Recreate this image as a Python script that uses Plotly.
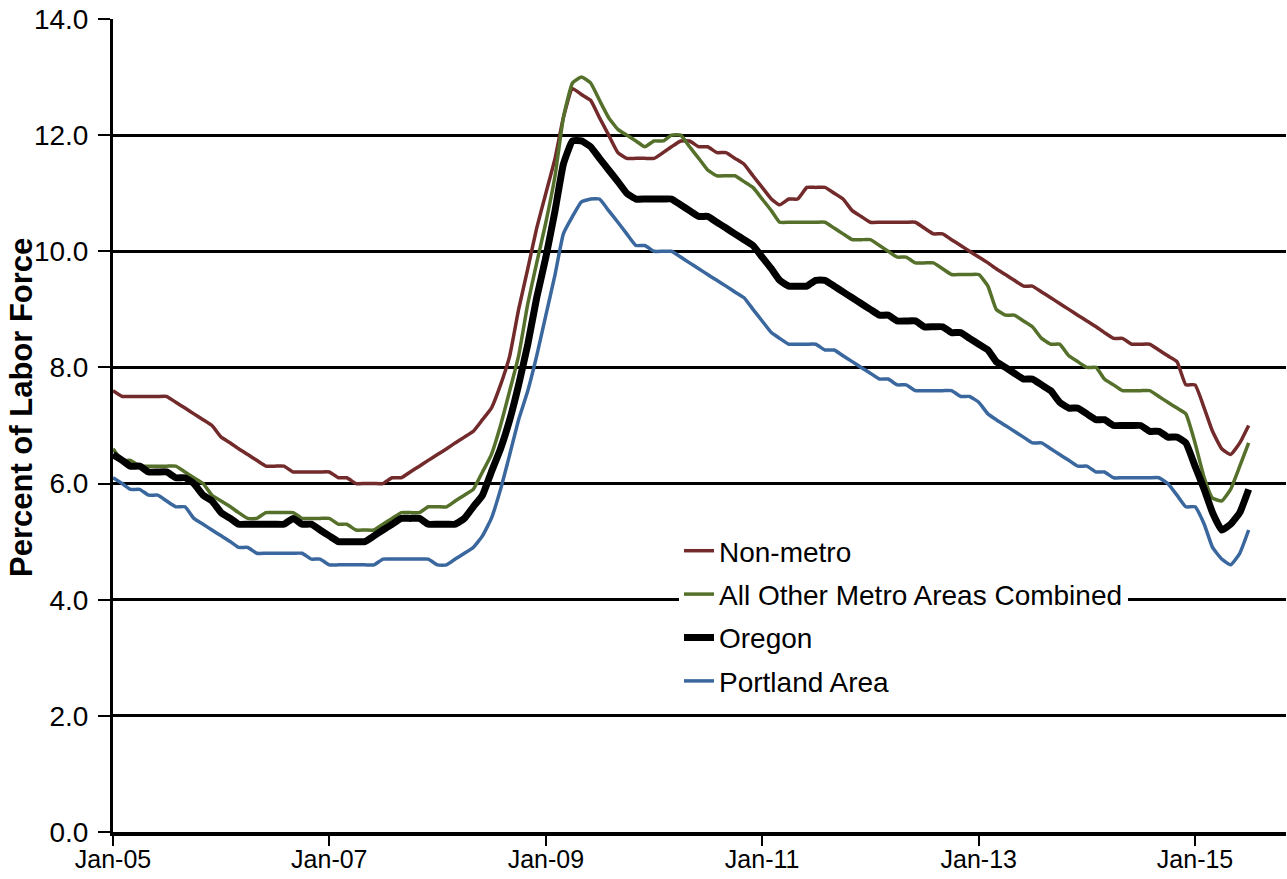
import pandas as pd
import plotly.graph_objects as go

# Monthly, Jan 2005 .. Jul 2015
months = pd.date_range("2005-01-01", periods=127, freq="MS")

non_metro = [
    7.6, 7.5, 7.5, 7.5, 7.5, 7.5, 7.5, 7.4, 7.3, 7.2,
    7.1, 7.0, 6.8, 6.7, 6.6, 6.5, 6.4, 6.3, 6.3, 6.3,
    6.2, 6.2, 6.2, 6.2, 6.2, 6.1, 6.1, 6.0, 6.0, 6.0,
    6.0, 6.1, 6.1, 6.2, 6.3, 6.4, 6.5, 6.6, 6.7, 6.8,
    6.9, 7.1, 7.3, 7.7, 8.2, 9.0, 9.7, 10.4, 11.0, 11.6,
    12.3, 12.8, 12.7, 12.6, 12.3, 12.0, 11.7, 11.6, 11.6, 11.6,
    11.6, 11.7, 11.8, 11.9, 11.9, 11.8, 11.8, 11.7, 11.7, 11.6,
    11.5, 11.3, 11.1, 10.9, 10.8, 10.9, 10.9, 11.1, 11.1, 11.1,
    11.0, 10.9, 10.7, 10.6, 10.5, 10.5, 10.5, 10.5, 10.5, 10.5,
    10.4, 10.3, 10.3, 10.2, 10.1, 10.0, 9.9, 9.8, 9.7, 9.6,
    9.5, 9.4, 9.4, 9.3, 9.2, 9.1, 9.0, 8.9, 8.8, 8.7,
    8.6, 8.5, 8.5, 8.4, 8.4, 8.4, 8.3, 8.2, 8.1, 7.7,
    7.7, 7.3, 6.9, 6.6, 6.5, 6.7, 7.0,
]

other_metro = [
    6.6, 6.4, 6.4, 6.3, 6.3, 6.3, 6.3, 6.3, 6.2, 6.1,
    6.0, 5.8, 5.7, 5.6, 5.5, 5.4, 5.4, 5.5, 5.5, 5.5,
    5.5, 5.4, 5.4, 5.4, 5.4, 5.3, 5.3, 5.2, 5.2, 5.2,
    5.3, 5.4, 5.5, 5.5, 5.5, 5.6, 5.6, 5.6, 5.7, 5.8,
    5.9, 6.2, 6.5, 7.0, 7.6, 8.2, 9.1, 9.8, 10.5, 11.3,
    12.3, 12.9, 13.0, 12.9, 12.6, 12.3, 12.1, 12.0, 11.9, 11.8,
    11.9, 11.9, 12.0, 12.0, 11.8, 11.6, 11.4, 11.3, 11.3, 11.3,
    11.2, 11.1, 10.9, 10.7, 10.5, 10.5, 10.5, 10.5, 10.5, 10.5,
    10.4, 10.3, 10.2, 10.2, 10.2, 10.1, 10.0, 9.9, 9.9, 9.8,
    9.8, 9.8, 9.7, 9.6, 9.6, 9.6, 9.6, 9.4, 9.0, 8.9,
    8.9, 8.8, 8.7, 8.5, 8.4, 8.4, 8.2, 8.1, 8.0, 8.0,
    7.8, 7.7, 7.6, 7.6, 7.6, 7.6, 7.5, 7.4, 7.3, 7.2,
    6.7, 6.1, 5.75, 5.7, 5.9, 6.3, 6.7,
]

oregon = [
    6.5, 6.4, 6.3, 6.3, 6.2, 6.2, 6.2, 6.1, 6.1, 6.0,
    5.8, 5.7, 5.5, 5.4, 5.3, 5.3, 5.3, 5.3, 5.3, 5.3,
    5.4, 5.3, 5.3, 5.2, 5.1, 5.0, 5.0, 5.0, 5.0, 5.1,
    5.2, 5.3, 5.4, 5.4, 5.4, 5.3, 5.3, 5.3, 5.3, 5.4,
    5.6, 5.8, 6.2, 6.6, 7.1, 7.7, 8.4, 9.2, 9.9, 10.7,
    11.5, 11.9, 11.9, 11.8, 11.6, 11.4, 11.2, 11.0, 10.9, 10.9,
    10.9, 10.9, 10.9, 10.8, 10.7, 10.6, 10.6, 10.5, 10.4, 10.3,
    10.2, 10.1, 9.9, 9.7, 9.5, 9.4, 9.4, 9.4, 9.5, 9.5,
    9.4, 9.3, 9.2, 9.1, 9.0, 8.9, 8.9, 8.8, 8.8, 8.8,
    8.7, 8.7, 8.7, 8.6, 8.6, 8.5, 8.4, 8.3, 8.1, 8.0,
    7.9, 7.8, 7.8, 7.7, 7.6, 7.4, 7.3, 7.3, 7.2, 7.1,
    7.1, 7.0, 7.0, 7.0, 7.0, 6.9, 6.9, 6.8, 6.8, 6.7,
    6.3, 5.9, 5.5, 5.2, 5.3, 5.5, 5.9,
]

portland = [
    6.1, 6.0, 5.9, 5.9, 5.8, 5.8, 5.7, 5.6, 5.6, 5.4,
    5.3, 5.2, 5.1, 5.0, 4.9, 4.9, 4.8, 4.8, 4.8, 4.8,
    4.8, 4.8, 4.7, 4.7, 4.6, 4.6, 4.6, 4.6, 4.6, 4.6,
    4.7, 4.7, 4.7, 4.7, 4.7, 4.7, 4.6, 4.6, 4.7, 4.8,
    4.9, 5.1, 5.4, 5.9, 6.5, 7.1, 7.6, 8.2, 8.9, 9.6,
    10.3, 10.6, 10.85, 10.9, 10.9, 10.7, 10.5, 10.3, 10.1, 10.1,
    10.0, 10.0, 10.0, 9.9, 9.8, 9.7, 9.6, 9.5, 9.4, 9.3,
    9.2, 9.0, 8.8, 8.6, 8.5, 8.4, 8.4, 8.4, 8.4, 8.3,
    8.3, 8.2, 8.1, 8.0, 7.9, 7.8, 7.8, 7.7, 7.7, 7.6,
    7.6, 7.6, 7.6, 7.6, 7.5, 7.5, 7.4, 7.2, 7.1, 7.0,
    6.9, 6.8, 6.7, 6.7, 6.6, 6.5, 6.4, 6.3, 6.3, 6.2,
    6.2, 6.1, 6.1, 6.1, 6.1, 6.1, 6.1, 6.0, 5.8, 5.6,
    5.6, 5.3, 4.9, 4.7, 4.6, 4.8, 5.2,
]

series_names = ["Non-metro", "All Other Metro Areas Combined", "Oregon", "Portland Area"]
series_values = [non_metro, other_metro, oregon, portland]
series_colors = ["#722A2B", "#55702A", "#000000", "#3A679E"]
series_widths = [3.5, 3.5, 7, 3.5]

y_tick_vals = [0, 2, 4, 6, 8, 10, 12, 14]
y_tick_text = ["0.0", "2.0", "4.0", "6.0", "8.0", "10.0", "12.0", "14.0"]
y_title = "Percent of Labor Force"

FONT = "Liberation Sans, Arial, sans-serif"
PLOT_L, PLOT_T, PLOT_W, PLOT_H = 113, 19, 1173, 813

fig = go.Figure()
for i, (name, vals, col, w) in enumerate(zip(series_names, series_values, series_colors, series_widths)):
    fig.add_trace(go.Scatter(
        x=months, y=vals, mode="lines", name=name,
        legendgroup=f"g{i}",
        line=dict(color=col, width=w, shape="spline", smoothing=0.4),
    ))

fig.add_annotation(
    text=f"<b>{y_title}</b>", textangle=-90,
    xref="paper", yref="paper",
    x=(22 - PLOT_L) / PLOT_W, y=(PLOT_T + PLOT_H - 408) / PLOT_H,
    xanchor="center", yanchor="middle", showarrow=False,
    font=dict(family=FONT, size=31, color="black"),
)

fig.update_layout(
    width=1287, height=879,
    margin=dict(l=PLOT_L, r=1, t=PLOT_T, b=879 - PLOT_T - PLOT_H),
    paper_bgcolor="white", plot_bgcolor="white",
    font=dict(family=FONT, size=28, color="black"),
    showlegend=True,
    legend=dict(
        x=(679 - PLOT_L) / PLOT_W, y=(PLOT_T + PLOT_H - 526) / PLOT_H,
        xanchor="left", yanchor="top",
        bgcolor="white", borderwidth=0,
        font=dict(family=FONT, size=28, color="black"),
        tracegroupgap=4, traceorder="grouped",
    ),
    xaxis=dict(
        type="date", automargin=False,
        range=["2005-01-01", "2015-11-04"],
        dtick="M24", tick0="2005-01-01",
        tickformat="%b-%y",
        ticks="outside", ticklen=10, tickwidth=2, tickcolor="black",
        ticklabelstandoff=-8,
        showline=True, linecolor="black", linewidth=4,
        showgrid=False, zeroline=False,
        tickfont=dict(family=FONT, size=25, color="black"),
    ),
    yaxis=dict(
        range=[0, 14], automargin=False,
        tickvals=y_tick_vals, ticktext=y_tick_text,
        ticks="outside", ticklen=12, tickwidth=2, tickcolor="black",
        ticklabelstandoff=4,
        showline=True, linecolor="black", linewidth=3,
        showgrid=True, gridcolor="black", gridwidth=2.5,
        zeroline=False,
        tickfont=dict(family=FONT, size=28, color="black"),
    ),
)

fig.write_html(
    "out.html",
    config={"displayModeBar": False},
    post_script="document.body.style.margin='0px';document.body.style.overflow='hidden';",
)
